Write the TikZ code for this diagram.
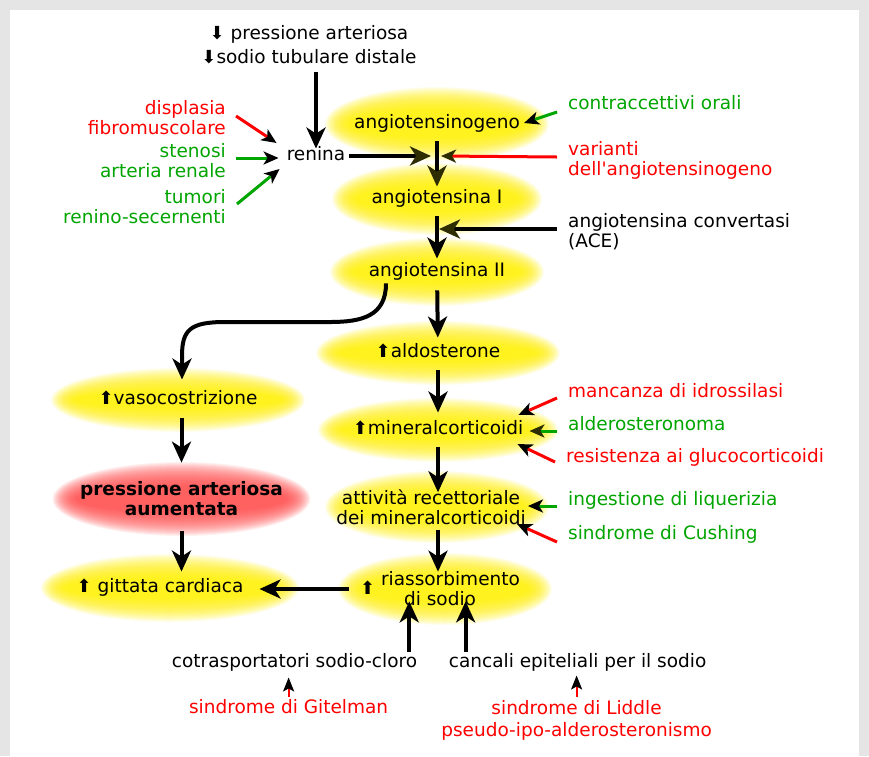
\documentclass[tikz,border=0pt]{standalone}
\usepackage{fontspec}
\setmainfont{DejaVu Sans}
\usetikzlibrary{arrows.meta,positioning,calc}
\pgfdeclarelayer{background}
\pgfsetlayers{background,main}

\definecolor{grn}{RGB}{0,165,0}
\definecolor{olivebk}{RGB}{45,45,0}
\definecolor{bordergray}{RGB}{229,229,229}

\newcommand{\up}{{\fontsize{18}{18}\selectfont ⬆}}
\newcommand{\dn}{{\fontsize{18}{18}\selectfont ⬇}}
% soft glow behind a node
\newcommand{\glowat}[5]{%
  \foreach \k in {0,1,...,24}{\fill[#4, opacity=#5] (#1) ellipse [x radius=#2-\k, y radius=#3-\k];}}

\tikzset{
  base/.style={font=\fontsize{18.5}{20}\selectfont, inner sep=0pt},
  txt/.style={base, text height=14pt, text depth=4.5pt},
  lines/.style={base, align=center},
  lft/.style={base, align=right, anchor=east},
  rgt/.style={txt, anchor=west},
  rgt2/.style={base, align=left, anchor=west},
  bigarr/.style={line width=4pt, -{Stealth[length=21pt,width=19pt,inset=6pt,color=#1]}},
  bigarr/.default=black,
  sidearr/.style={line width=3pt, -{Stealth[length=15pt,width=13pt,inset=4pt,color=#1]}},
  sidearr/.default=black,
  tinyarr/.style={line width=2pt, red, -{Stealth[length=14pt,width=11pt,inset=3pt,color=black]}}
}

\begin{document}
\begin{tikzpicture}[x=1pt,y=-1pt]
  \useasboundingbox (0,0) rectangle (869,756);

  % renin side
  \node[lines] (cause) at (309,45) {\dn\ pressione arteriosa\\[4pt]\dn sodio tubulare distale};
  \node[txt] (renina) at (316,156) {renina};
  \node[lft, text=red] (displ) at (226,117.5) {displasia\\fibromuscolare};
  \node[lft, text=grn] (sten) at (226,160.5) {stenosi\\arteria renale};
  \node[lft, text=grn] (tum) at (226,206.5) {tumori\\renino-secernenti};

  % main chain
  \node[txt] (ang0) at (437,124) {angiotensinogeno};
  \node[txt] (ang1) at (437,199) {angiotensina I};
  \node[txt] (ang2) at (437,272) {angiotensina II};
  \node[txt] (aldo) at (438,353) {\up aldosterone};
  \node[txt] (mineral) at (438,430) {\up mineralcorticoidi};
  \node[lines] (att) at (431,507) {attività recettoriale\\dei mineralcorticoidi};
  \node[lines] (riass) at (440,589) {\smash{\raisebox{-9pt}{\up}} riassorbimento\\di sodio};

  % left column
  \node[txt] (vaso) at (178,400) {\up vasocostrizione};
  \node[lines, font=\fontsize{18.5}{20}\selectfont\bfseries] (press) at (181.5,499) {pressione arteriosa\\aumentata};
  \node[txt] (gitt) at (160,588) {\up\ gittata cardiaca};

  % influences on the right
  \node[rgt, text=grn] (contr) at (568,105) {contraccettivi orali};
  \node[rgt2, text=red] (var) at (568,160.5) {varianti\\dell\textquotesingle angiotensinogeno};
  \node[rgt2] (ace) at (568,232) {angiotensina convertasi\\(ACE)};
  \node[rgt, text=red] (manc) at (568,393) {mancanza di idrossilasi};
  \node[rgt, text=grn] (alder) at (568,426) {alderosteronoma};
  \node[rgt, text=red] (resist) at (566,458) {resistenza ai glucocorticoidi};
  \node[rgt, text=grn] (inges) at (568,501) {ingestione di liquerizia};
  \node[rgt, text=grn] (cush) at (568,535) {sindrome di Cushing};

  % channels
  \node[txt] (cotr) at (294.5,663) {cotrasportatori sodio-cloro};
  \node[txt] (canc) at (577.6,663) {cancali epiteliali per il sodio};
  \node[txt, text=red] (gitel) at (288.6,709) {sindrome di Gitelman};
  \node[lines, text=red] (liddle) at (576.6,720) {sindrome di Liddle\\[2pt]pseudo-ipo-alderosteronismo};

  \begin{pgfonlayer}{background}
    \fill[bordergray] (0,0) rectangle (869,756);
    \fill[white] (10,10) rectangle (859,756);
    \glowat{ang0}{112}{37}{yellow}{0.075}
    \glowat{ang1}{105}{36}{yellow}{0.075}
    \glowat{ang2}{107}{34}{yellow}{0.075}
    \glowat{aldo}{122}{32}{yellow}{0.075}
    \glowat{mineral}{120}{32}{yellow}{0.075}
    \glowat{$(att)+(6,0)$}{112}{36}{yellow}{0.075}
    \glowat{$(riass)+(5,0)$}{107}{36}{yellow}{0.075}
    \glowat{vaso}{127}{32}{yellow}{0.075}
    \glowat{$(gitt)+(10,0)$}{129}{34}{yellow}{0.075}
    \glowat{press}{129}{37}{red!70}{0.075}
  \end{pgfonlayer}

  \coordinate (j1) at (437,156);
  \coordinate (j2) at (437,229);

  % arrows into renina
  \draw[bigarr, shorten <=8pt, shorten >=-2pt] (cause.south -| renina) -- (renina.north);
  \draw[sidearr, red] ($(displ.east)+(10,-1.5)$) -- ($(renina.west)+(-10,-13)$);
  \draw[sidearr, grn] ($(sten.east)+(10,-2.5)$) -- ($(renina.west)+(-8,2)$);
  \draw[sidearr, grn] ($(tum.east)+(11,-2.5)$) -- ($(renina.west)+(-7,13)$);

  % cascade
  \draw[bigarr=olivebk, shorten <=4pt] (renina.east) -- ($(j1)+(-6,0)$);
  \draw[sidearr=olivebk, red] ($(var.west)+(-11,-3.5)$) -- ($(j1)+(4,0)$);
  \draw[sidearr, grn] ($(contr.west)+(-11,7)$) -- ($(ang0.east)+(4,-1)$);
  \draw[bigarr=olivebk, shorten <=8pt, shorten >=3pt] (ang0) -- (ang1);
  \draw[bigarr, shorten <=8pt, shorten >=4pt] (ang1) -- (ang2);
  \draw[bigarr=olivebk] ($(ace.west)+(-11,-3)$) -- ($(j2)+(2,0)$);
  \draw[bigarr, shorten <=9pt, shorten >=6pt] (ang2) -- (aldo);
  \draw[bigarr, shorten <=8pt, shorten >=8pt] (aldo) -- (mineral);
  \draw[bigarr, shorten <=8pt, shorten >=-3pt] (mineral) -- (mineral |- att.north);
  \draw[bigarr, shorten <=5pt] (att.south -| mineral) -- (mineral |- riass.north);
  \draw[bigarr, shorten <=11pt, shorten >=16pt] (riass.west) -- (riass.west -| gitt.east);

  % mineralcorticoid influences
  \draw[sidearr, red] ($(manc.west)+(-11,5)$) -- ($(mineral.east)+(-5,-15)$);
  \draw[sidearr=olivebk, grn] ($(alder.west)+(-11,5)$) -- ($(mineral.east)+(6,1)$);
  \draw[sidearr, red] ($(resist.west)+(-11,4)$) -- ($(mineral.east)+(-6,14)$);
  \draw[sidearr, grn] ($(inges.west)+(-11,5)$) -- ($(att.east)+(2,-1)$);
  \draw[sidearr, red] ($(cush.west)+(-11,7)$) -- ($(att.east)+(-9,17)$);

  % vasoconstriction branch
  \draw[line width=4pt, -{Stealth[length=21pt,width=19pt,inset=6pt]}]
    ($(ang2.south)+(-51,2)$) .. controls (386,316) and (362,322) .. (330,322)
    -- (225,322) .. controls (190,322) and (182,330) .. (182,356)
    -- ($(vaso.north)+(4,-11)$);
  \draw[bigarr, shorten <=9pt, shorten >=19pt] (vaso.south -| press) -- (press.north);
  \draw[bigarr, shorten <=15pt, shorten >=7pt] (press) -- (press |- gitt.north);

  % sodium channels
  \coordinate (a1) at ($(cotr.north east)+(-8,-2)$);
  \coordinate (a2) at ($(canc.north west)+(17,-2)$);
  \draw[bigarr, shorten >=-5pt] (a1) -- (a1 |- riass.south);
  \draw[bigarr, shorten >=-5pt] (a2) -- (a2 |- riass.south);
  \draw[tinyarr, shorten <=3pt, shorten >=5pt] (gitel.north) -- (gitel.north |- cotr.south);
  \draw[tinyarr, shorten <=3pt, shorten >=3pt] (liddle.north) -- (liddle.north |- canc.south);
\end{tikzpicture}
\end{document}
